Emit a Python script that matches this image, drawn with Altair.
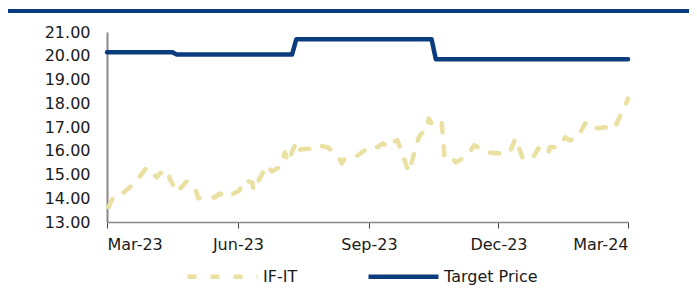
import altair as alt
import pandas as pd

# IF-IT share price (INR)
price_dates = [
    "2023-03-02", "2023-03-05", "2023-03-08", "2023-03-17", "2023-03-23", "2023-03-29",
    "2023-04-05", "2023-04-07", "2023-04-13", "2023-04-14", "2023-04-19", "2023-04-26",
    "2023-05-02", "2023-05-04", "2023-05-16", "2023-05-19", "2023-05-24",
    "2023-06-02", "2023-06-05", "2023-06-11", "2023-06-12", "2023-06-21", "2023-06-25",
    "2023-07-01", "2023-07-04", "2023-07-06", "2023-07-11", "2023-07-13", "2023-07-15",
    "2023-07-24", "2023-07-27", "2023-08-03", "2023-08-10", "2023-08-13", "2023-08-15",
    "2023-08-24", "2023-09-02", "2023-09-07", "2023-09-11", "2023-09-14", "2023-09-17",
    "2023-09-21", "2023-09-26", "2023-09-29", "2023-10-02", "2023-10-06", "2023-10-08",
    "2023-10-12", "2023-10-13", "2023-10-15", "2023-10-19", "2023-10-22", "2023-10-23",
    "2023-10-24", "2023-10-27", "2023-11-01", "2023-11-09", "2023-11-14", "2023-11-23",
    "2023-12-01", "2023-12-09", "2023-12-13", "2023-12-18", "2023-12-25", "2023-12-29",
    "2024-01-01", "2024-01-05", "2024-01-06", "2024-01-12", "2024-01-17", "2024-01-20",
    "2024-01-25", "2024-01-31", "2024-02-02", "2024-02-07", "2024-02-14", "2024-02-20",
    "2024-02-22", "2024-02-28", "2024-03-01",
]
price_values = [
    13.62, 14.00, 14.00, 14.46, 14.84, 15.30,
    14.88, 15.05, 15.18, 14.84, 14.25, 14.71,
    14.42, 14.00, 14.04, 14.20, 14.04,
    14.33, 14.75, 14.67, 14.33, 15.39, 15.13,
    15.34, 15.93, 15.51, 16.23, 15.89, 16.06,
    16.10, 16.23, 16.15, 15.80, 15.47, 15.68,
    15.80, 16.19, 16.15, 16.31, 16.15, 16.36,
    16.44, 15.60, 15.10, 15.72, 16.56, 16.73,
    16.86, 17.36, 17.15, 17.20, 17.28, 16.56,
    15.80, 15.89, 15.51, 15.80, 16.23, 15.93,
    15.89, 15.93, 16.52, 15.68, 15.68, 16.10,
    15.89, 15.89, 16.15, 16.15, 16.56, 16.44,
    16.52, 17.15, 16.94, 16.94, 16.99, 16.90,
    17.15, 17.90, 18.20,
]

# Target price (INR)
target_dates = [
    "2023-03-01", "2023-04-16", "2023-04-19", "2023-07-09",
    "2023-07-12", "2023-10-15", "2023-10-18", "2024-03-01",
]
target_values = [20.15, 20.15, 20.05, 20.05, 20.70, 20.70, 19.85, 19.85]

series_names = ["IF-IT", "Target Price"]
series_colors = ["#EAE0A2", "#0B3C7D"]
y_ticks = [13, 14, 15, 16, 17, 18, 19, 20, 21]

df = pd.concat([
    pd.DataFrame({"date": price_dates, "value": price_values, "series": series_names[0]}),
    pd.DataFrame({"date": target_dates, "value": target_values, "series": series_names[1]}),
], ignore_index=True)

FONT = "DejaVu Sans"
TXT = "#1a1a1a"

legend = alt.Legend(
    orient="none", legendX=78, legendY=207, direction="horizontal", title=None,
    symbolType="stroke", symbolSize=4900, symbolStrokeWidth=4.5,
    labelFontSize=16, labelFont=FONT, labelColor=TXT, labelOffset=3,
    columnPadding=61, padding=0,
)

lines = alt.Chart(df).mark_line(strokeWidth=4.5, strokeCap="round", strokeJoin="round").encode(
    x=alt.X(
        "date:T",
        scale=alt.Scale(
            type="utc",
            domain=[alt.DateTime(year=2023, month=3, date=1, utc=True),
                    alt.DateTime(year=2024, month=3, date=1, utc=True)],
        ),
        axis=alt.Axis(
            title=None,
            values=[alt.DateTime(year=2023, month=3, date=1, utc=True),
                    alt.DateTime(year=2023, month=6, date=1, utc=True),
                    alt.DateTime(year=2023, month=9, date=1, utc=True),
                    alt.DateTime(year=2023, month=12, date=1, utc=True),
                    alt.DateTime(year=2024, month=3, date=1, utc=True)],
            format="%b-%y", grid=False, domainColor="#888888", domainWidth=1.5,
            tickColor="#444444", tickSize=6, labelPadding=8,
            labelFont=FONT, labelFontSize=16, labelColor=TXT,
        ),
    ),
    y=alt.Y(
        "value:Q",
        scale=alt.Scale(domain=[13, 21], nice=False, zero=False),
        axis=alt.Axis(
            title=None, values=y_ticks, format=".2f", grid=False, ticks=False, tickSize=0,
            domainColor="#888888", domainWidth=2, labelPadding=17,
            labelFont=FONT, labelFontSize=16, labelColor=TXT,
        ),
    ),
    color=alt.Color("series:N", scale=alt.Scale(domain=series_names, range=series_colors), legend=legend),
    strokeDash=alt.StrokeDash("series:N", scale=alt.Scale(domain=series_names, range=[[9, 14], [1, 0]]), legend=legend),
)

top_rule = alt.Chart(df).mark_rule(color="#0B3C7D", strokeWidth=2.5).encode(
    x=alt.value(-99), x2=alt.value(582), y=alt.value(-21)
)

chart = alt.layer(top_rule, lines).properties(
    width=521, height=190,
    autosize=alt.AutoSizeParams(type="none"),
    padding={"left": 99, "top": 24, "right": 61, "bottom": 68},
).configure_view(stroke=None)

chart.save("out.html", embed_options={"renderer": "svg", "actions": False})
